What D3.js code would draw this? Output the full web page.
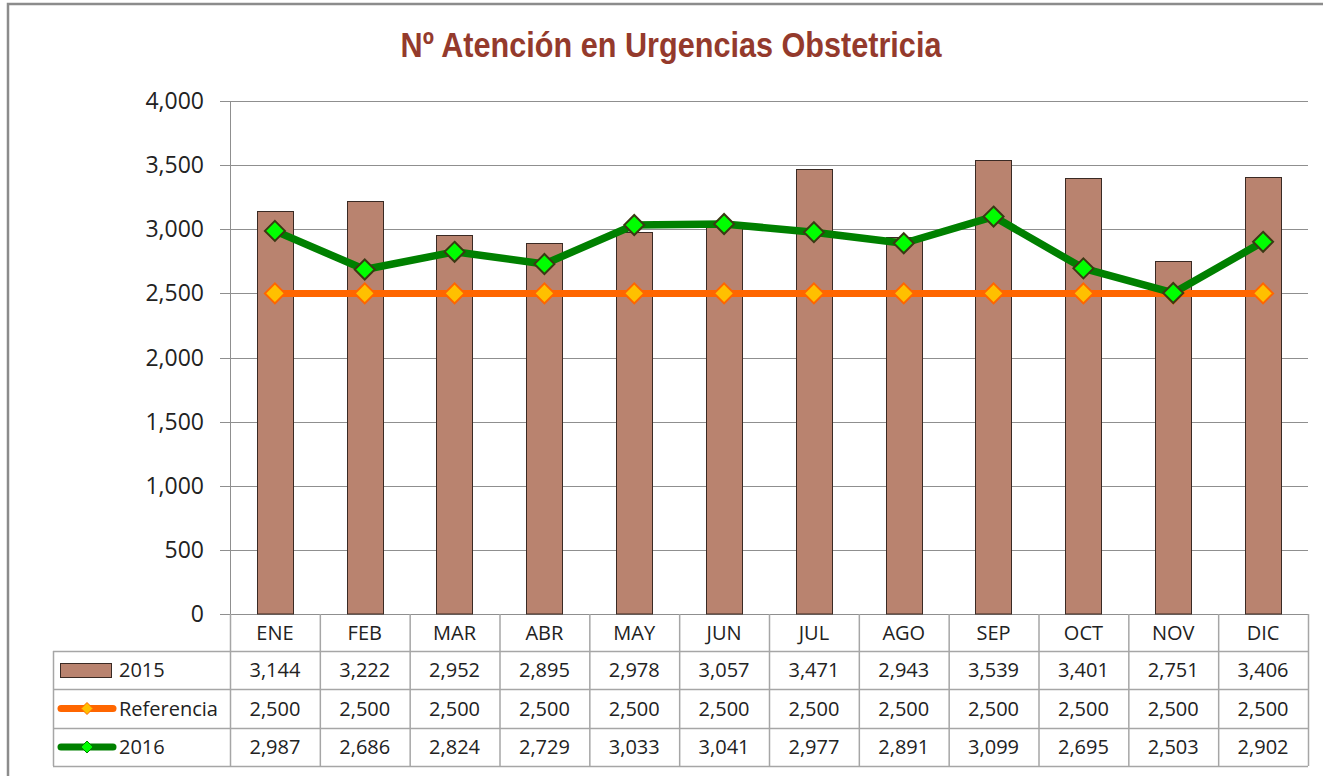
<!DOCTYPE html>
<html>
<head>
<meta charset="utf-8">
<script src="https://cdn.jsdelivr.net/npm/d3@7"></script>
<style>
  html, body { margin: 0; padding: 0; background: #fff; }
  svg { display: block; }
  .tick-label { font-family: "Open Sans", "Noto Sans", sans-serif; font-size: 23px; fill: #222; }
  .cell { font-family: "Open Sans", "Noto Sans", sans-serif; font-size: 20px; fill: #222; }
</style>
</head>
<body>
<svg id="chart"></svg>
<script>
/* ============================================================
   Nº Atención en Urgencias Obstetricia – barras + líneas + tabla
   ============================================================ */

const MONTHS     = ['ENE', 'FEB', 'MAR', 'ABR', 'MAY', 'JUN', 'JUL', 'AGO', 'SEP', 'OCT', 'NOV', 'DIC'];
const VALS_2015  = [3144, 3222, 2952, 2895, 2978, 3057, 3471, 2943, 3539, 3401, 2751, 3406];
const REFERENCIA = [2500, 2500, 2500, 2500, 2500, 2500, 2500, 2500, 2500, 2500, 2500, 2500];
const VALS_2016  = [2987, 2686, 2824, 2729, 3033, 3041, 2977, 2891, 3099, 2695, 2503, 2902];
const Y_TICKS    = [0, 500, 1000, 1500, 2000, 2500, 3000, 3500, 4000];

const W = 1323, H = 776;
const plotL = 230, plotR = 1308, plotT = 101, plotB = 614;
const rowH = [37, 38, 39, 38];   // categorías, 2015, Referencia, 2016
const legendLeft = 53;

const fmt = d3.format(',');
const svg = d3.select('#chart').attr('width', W).attr('height', H);

// marco exterior
svg.append('rect')
  .attr('x', 8).attr('y', 4).attr('width', W + 10).attr('height', H + 10)
  .attr('fill', 'none').attr('stroke', '#8c8c8c').attr('stroke-width', 2.5);

// título (fuente estrecha simulada con escala horizontal)
svg.append('text')
  .attr('transform', 'translate(671,57) scale(0.875,1)')
  .attr('text-anchor', 'middle')
  .attr('font-family', '"Liberation Sans Narrow", "Arial Narrow", "Liberation Sans", sans-serif')
  .attr('font-weight', 'bold')
  .attr('font-size', 35)
  .attr('fill', '#943a2c')
  .text('Nº Atención en Urgencias Obstetricia');

const x = d3.scaleBand().domain(MONTHS).range([plotL, plotR]);
const y = d3.scaleLinear().domain([0, 4000]).range([plotB, plotT]);

// rejilla horizontal
svg.append('g').selectAll('line')
  .data(Y_TICKS).enter().append('line')
  .attr('x1', plotL - 10).attr('x2', plotR)
  .attr('y1', d => Math.round(y(d)) + 0.5).attr('y2', d => Math.round(y(d)) + 0.5)
  .attr('stroke', '#8f8f8f').attr('stroke-width', 1);

// eje y
svg.append('line')
  .attr('x1', plotL + 0.5).attr('x2', plotL + 0.5)
  .attr('y1', plotT).attr('y2', plotB)
  .attr('stroke', '#8f8f8f');

svg.append('g').selectAll('text')
  .data(Y_TICKS).enter().append('text')
  .attr('class', 'tick-label')
  .attr('x', 204).attr('y', d => y(d) + 8)
  .attr('text-anchor', 'end')
  .text(d => fmt(d));

// barras 2015
const barW = x.bandwidth() * 0.405;
svg.append('g').selectAll('rect')
  .data(VALS_2015).enter().append('rect')
  .attr('x', (d, i) => Math.round(x(MONTHS[i]) + x.bandwidth() / 2 - barW / 2) + 0.5)
  .attr('y', d => Math.round(y(d)) + 0.5)
  .attr('width', Math.round(barW))
  .attr('height', d => plotB - Math.round(y(d)) - 0.5)
  .attr('fill', '#b9836f')
  .attr('stroke', '#3a2a24')
  .attr('stroke-width', 1);

const cx = i => x(MONTHS[i]) + x.bandwidth() / 2;

function diamond(g, px, py, r, fill, stroke, sw) {
  g.append('path')
    .attr('d', `M${px},${py - r}L${px + r},${py}L${px},${py + r}L${px - r},${py}Z`)
    .attr('fill', fill).attr('stroke', stroke).attr('stroke-width', sw);
}

// línea de referencia
const line = d3.line().x((d, i) => cx(i)).y(d => y(d));
svg.append('path').datum(REFERENCIA)
  .attr('d', line).attr('fill', 'none')
  .attr('stroke', '#ff6600').attr('stroke-width', 7);
const refG = svg.append('g');
REFERENCIA.forEach((d, i) => diamond(refG, cx(i), y(d), 10, '#ffc000', '#ff6600', 2));

// línea 2016
svg.append('path').datum(VALS_2016)
  .attr('d', line).attr('fill', 'none')
  .attr('stroke', '#008000').attr('stroke-width', 7.5)
  .attr('stroke-linejoin', 'round');
const g16 = svg.append('g');
VALS_2016.forEach((d, i) => diamond(g16, cx(i), y(d), 10, '#00ff00', '#3a3a14', 2));

// ---------- tabla de datos ----------
const rowY = [plotB];
rowH.forEach(h => rowY.push(rowY[rowY.length - 1] + h));
const table = svg.append('g');
const gridC = '#a6a6a6';

// líneas horizontales
rowY.forEach((ry, k) => {
  if (k === 0) return;
  table.append('line')
    .attr('x1', legendLeft).attr('x2', plotR)
    .attr('y1', ry + 0.5).attr('y2', ry + 0.5)
    .attr('stroke', gridC).attr('stroke-width', 1.5);
});
// verticales
table.append('line')
  .attr('x1', legendLeft + 0.5).attr('x2', legendLeft + 0.5)
  .attr('y1', rowY[1]).attr('y2', rowY[4])
  .attr('stroke', gridC).attr('stroke-width', 1.5);
MONTHS.forEach(m => {
  table.append('line')
    .attr('x1', x(m) + 0.5).attr('x2', x(m) + 0.5)
    .attr('y1', rowY[0]).attr('y2', rowY[4])
    .attr('stroke', gridC).attr('stroke-width', 1.5);
});
table.append('line')
  .attr('x1', plotR + 0.5).attr('x2', plotR + 0.5)
  .attr('y1', rowY[0]).attr('y2', rowY[4])
  .attr('stroke', gridC).attr('stroke-width', 1.5);

// textos de la tabla
const rows = [MONTHS, VALS_2015.map(fmt), REFERENCIA.map(fmt), VALS_2016.map(fmt)];
rows.forEach((vals, r) => {
  table.append('g').selectAll('text').data(vals).enter().append('text')
    .attr('class', 'cell')
    .attr('x', (d, i) => cx(i))
    .attr('y', (rowY[r] + rowY[r + 1]) / 2 + 7)
    .attr('text-anchor', 'middle')
    .text(d => d);
});

// leyenda
const legY = r => (rowY[r] + rowY[r + 1]) / 2;
table.append('rect')
  .attr('x', 60.5).attr('y', legY(1) - 6.5).attr('width', 51).attr('height', 14)
  .attr('fill', '#b9836f').attr('stroke', '#3a2a24');
table.append('line')
  .attr('x1', 61).attr('x2', 113).attr('y1', legY(2)).attr('y2', legY(2))
  .attr('stroke', '#ff6600').attr('stroke-width', 7).attr('stroke-linecap', 'round');
diamond(table, 87, legY(2), 6, '#ffc000', '#ff6600', 1);
table.append('line')
  .attr('x1', 61).attr('x2', 113).attr('y1', legY(3)).attr('y2', legY(3))
  .attr('stroke', '#008000').attr('stroke-width', 7).attr('stroke-linecap', 'round');
diamond(table, 87, legY(3), 6, '#00ff00', '#008000', 1);

['2015', 'Referencia', '2016'].forEach((t, k) => {
  table.append('text')
    .attr('class', 'cell')
    .attr('x', 119).attr('y', legY(k + 1) + 7)
    .text(t);
});
</script>
</body>
</html>
